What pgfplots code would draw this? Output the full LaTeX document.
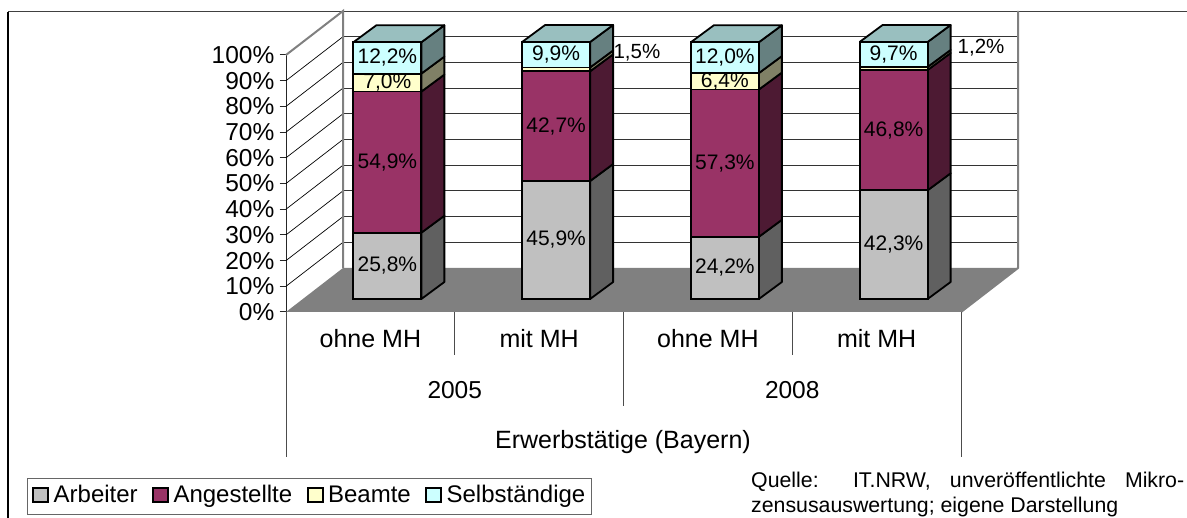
\documentclass[border=0pt]{standalone}
\usepackage{fontspec}
\setmainfont{Liberation Sans}
\usepackage{pgfplots}
\pgfplotsset{compat=1.18}
\definecolor{gArb}{HTML}{C0C0C0}\definecolor{sArb}{HTML}{606060}
\definecolor{gAng}{HTML}{993366}\definecolor{sAng}{HTML}{4D1A33}
\definecolor{gBea}{HTML}{FFFFCC}\definecolor{sBea}{HTML}{808066}
\definecolor{gSel}{HTML}{CCFFFF}\definecolor{sSel}{HTML}{668080}
\definecolor{tSel}{HTML}{99BFBF}
\definecolor{wall}{HTML}{808080}
\newcommand{\fs}[1]{\fontsize{#1}{#1}\selectfont}
\pgfplotsset{geom/.style={scale only axis,width=675pt,height=257pt,xmin=0,xmax=4,ymin=0,ymax=100,clip=false,no markers,anchor=south west}}
\begin{document}
\begin{tikzpicture}[x=1pt,y=1pt]
\useasboundingbox (0,0) rectangle (1187,518);
% ---------- front plane axis: frame, walls, floor, ticks, categories
\begin{axis}[geom,at={(286pt,206pt)},
  axis x line=bottom,axis y line=left,axis line style={-,line width=1pt,color=black!85},
  unbounded coords=jump,
  xtick={0.5,1.5,2.5,3.5},xticklabels={ohne MH,mit MH,ohne MH,mit MH},
  major x tick style={draw=none},
  xticklabel style={font=\fs{25},anchor=base,yshift=-29pt},
  ytick={0,10,...,100},
  yticklabels={0\%,10\%,20\%,30\%,40\%,50\%,60\%,70\%,80\%,90\%,100\%},
  yticklabel style={font=\fs{24.5},inner sep=0pt,anchor=east,xshift=-5pt},
  tick align=outside,major tick length=6.5pt,
  major y tick style={line width=1pt,color=black!85},
]
% outer frame
\addplot[color=black!75,line width=1.6pt] coordinates {(-1.6474,116.9) (5.3393,116.9)};
\addplot[color=black,line width=1.3pt] coordinates {(-1.6474,116.9) (-1.6474,-80.16)};
% floor
\addplot[fill=wall,draw=none] coordinates {(0,0) (4,0) (4.3378,17.12) (0.3378,17.12) (0,0)};
% back wall grid
\addplot[color=black!80,line width=0.8pt] coordinates {
 (0.3378,27.12) (4.3378,27.12) (nan,nan) (0.3378,37.12) (4.3378,37.12) (nan,nan)
 (0.3378,47.12) (4.3378,47.12) (nan,nan) (0.3378,57.12) (4.3378,57.12) (nan,nan)
 (0.3378,67.12) (4.3378,67.12) (nan,nan) (0.3378,77.12) (4.3378,77.12) (nan,nan)
 (0.3378,87.12) (4.3378,87.12) (nan,nan) (0.3378,97.12) (4.3378,97.12) (nan,nan)
 (0.3378,107.12) (4.3378,107.12)};
% left wall grid
\addplot[color=black,line width=0.7pt] coordinates {
 (0,10) (0.3378,27.12) (nan,nan) (0,20) (0.3378,37.12) (nan,nan)
 (0,30) (0.3378,47.12) (nan,nan) (0,40) (0.3378,57.12) (nan,nan)
 (0,50) (0.3378,67.12) (nan,nan) (0,60) (0.3378,77.12) (nan,nan)
 (0,70) (0.3378,87.12) (nan,nan) (0,80) (0.3378,97.12) (nan,nan)
 (0,90) (0.3378,107.12)};
% wall edges
\addplot[color=wall,line width=2pt] coordinates {(0,100) (0.3378,117.12) (0.3378,17.12)};
\addplot[color=wall,line width=2pt] coordinates {(4.3378,117.12) (4.3378,17.12) (4,0)};
% category separators
\addplot[color=black!70,line width=0.9pt] coordinates {
 (0,0) (0,-56.4) (nan,nan) (1,0) (1,-16.7) (nan,nan) (2,0) (2,-36.6) (nan,nan)
 (3,0) (3,-16.7) (nan,nan) (4,0) (4,-56.4)};
\node[font=\fs{24.5}] at (axis cs:1,-30.35) {2005};
\node[font=\fs{24.5}] at (axis cs:3,-30.35) {2008};
\node[font=\fs{25}] at (axis cs:1.997,-50.6) {Erwerbstätige (Bayern)};
\node[anchor=north west,inner sep=0pt,font=\fontsize{21.3}{24.3}\selectfont,align=left] at (axis cs:2.7556,-62.3)
 {\makebox[433pt][s]{Quelle: IT.NRW, unveröffentlichte Mikro-}\\zensusauswertung; eigene Darstellung};
\end{axis}
% ---------- side and top faces of the bars
\begin{axis}[geom,at={(303pt,219pt)},hide axis]
\pgfplotsset{every axis plot/.append style={draw=black,line width=1.8pt,line join=round}}
% bar 1
\addplot[fill=sArb] coordinates {(0.7015,0) (0.8378,6.615) (0.8378,32.415) (0.7015,25.8) (0.7015,0)};
\addplot[fill=sAng] coordinates {(0.7015,25.8) (0.8378,32.415) (0.8378,87.315) (0.7015,80.7) (0.7015,25.8)};
\addplot[fill=sBea] coordinates {(0.7015,80.7) (0.8378,87.315) (0.8378,94.315) (0.7015,87.7) (0.7015,80.7)};
\addplot[fill=sSel] coordinates {(0.7015,87.7) (0.8378,94.315) (0.8378,106.515) (0.7015,99.9) (0.7015,87.7)};
\addplot[fill=tSel] coordinates {(0.2985,99.9) (0.7015,99.9) (0.8378,106.515) (0.4348,106.515) (0.2985,99.9)};
% bar 2
\addplot[fill=sArb] coordinates {(1.7015,0) (1.8378,6.615) (1.8378,52.515) (1.7015,45.9) (1.7015,0)};
\addplot[fill=sAng] coordinates {(1.7015,45.9) (1.8378,52.515) (1.8378,95.215) (1.7015,88.6) (1.7015,45.9)};
\addplot[fill=sBea] coordinates {(1.7015,88.6) (1.8378,95.215) (1.8378,96.715) (1.7015,90.1) (1.7015,88.6)};
\addplot[fill=sSel] coordinates {(1.7015,90.1) (1.8378,96.715) (1.8378,106.615) (1.7015,100) (1.7015,90.1)};
\addplot[fill=tSel] coordinates {(1.2985,100) (1.7015,100) (1.8378,106.615) (1.4348,106.615) (1.2985,100)};
% bar 3
\addplot[fill=sArb] coordinates {(2.7015,0) (2.8378,6.615) (2.8378,30.815) (2.7015,24.2) (2.7015,0)};
\addplot[fill=sAng] coordinates {(2.7015,24.2) (2.8378,30.815) (2.8378,88.115) (2.7015,81.5) (2.7015,24.2)};
\addplot[fill=sBea] coordinates {(2.7015,81.5) (2.8378,88.115) (2.8378,94.515) (2.7015,87.9) (2.7015,81.5)};
\addplot[fill=sSel] coordinates {(2.7015,87.9) (2.8378,94.515) (2.8378,106.515) (2.7015,99.9) (2.7015,87.9)};
\addplot[fill=tSel] coordinates {(2.2985,99.9) (2.7015,99.9) (2.8378,106.515) (2.4348,106.515) (2.2985,99.9)};
% bar 4
\addplot[fill=sArb] coordinates {(3.7015,0) (3.8378,6.615) (3.8378,48.915) (3.7015,42.3) (3.7015,0)};
\addplot[fill=sAng] coordinates {(3.7015,42.3) (3.8378,48.915) (3.8378,95.715) (3.7015,89.1) (3.7015,42.3)};
\addplot[fill=sBea] coordinates {(3.7015,89.1) (3.8378,95.715) (3.8378,96.915) (3.7015,90.3) (3.7015,89.1)};
\addplot[fill=sSel] coordinates {(3.7015,90.3) (3.8378,96.915) (3.8378,106.615) (3.7015,100) (3.7015,90.3)};
\addplot[fill=tSel] coordinates {(3.2985,100) (3.7015,100) (3.8378,106.615) (3.4348,106.615) (3.2985,100)};
\end{axis}
% ---------- front faces: stacked bars with the chart's values
\begin{axis}[geom,at={(303pt,219pt)},hide axis,
  ybar stacked,bar width=68pt,
  legend columns=4,
  legend style={at={(axis description cs:-0.4089,-0.6965)},anchor=north west,
    draw=black!60,line width=0.8pt,fill=white,font=\fs{24},inner xsep=5pt,inner ysep=5.5pt,
    /tikz/every odd column/.style={column sep=3pt},
    /tikz/every even column/.style={column sep=13pt},
    nodes={inner sep=1.5pt,text height=17pt,text depth=5pt}},
  legend image code/.code={\draw[#1,line width=1.8pt,draw=black] (0pt,-6pt) rectangle (15pt,8pt);},
]
\pgfplotsset{every axis plot/.append style={draw=black,line width=1.8pt}}
\addplot[fill=gArb] coordinates {(0.5,25.8) (1.5,45.9) (2.5,24.2) (3.5,42.3)};
\addplot[fill=gAng] coordinates {(0.5,54.9) (1.5,42.7) (2.5,57.3) (3.5,46.8)};
\addplot[fill=gBea] coordinates {(0.5,7.0) (1.5,1.5) (2.5,6.4) (3.5,1.2)};
\addplot[fill=gSel] coordinates {(0.5,12.2) (1.5,9.9) (2.5,12.0) (3.5,9.7)};
\legend{Arbeiter,Angestellte,Beamte,Selbständige}
\end{axis}
% ---------- data labels, above the bars
\begin{axis}[geom,at={(303pt,219pt)},hide axis]
\tikzset{every node/.style={font=\fs{21}}}
\node at (axis cs:0.5,12.9) {25,8\%};
\node at (axis cs:0.5,53.25) {54,9\%};
\node at (axis cs:0.5,84.2) {7,0\%};
\node at (axis cs:0.5,93.8) {12,2\%};
\node at (axis cs:1.5,22.95) {45,9\%};
\node at (axis cs:1.5,67.25) {42,7\%};
\node[font=\fs{20.5}] at (axis cs:1.979,95.7) {1,5\%};
\node at (axis cs:1.5,95.05) {9,9\%};
\node at (axis cs:2.5,12.1) {24,2\%};
\node at (axis cs:2.5,52.85) {57,3\%};
\node at (axis cs:2.5,84.7) {6,4\%};
\node at (axis cs:2.5,93.9) {12,0\%};
\node at (axis cs:3.5,21.15) {42,3\%};
\node at (axis cs:3.5,65.7) {46,8\%};
\node[font=\fs{20.5}] at (axis cs:4.018,97.7) {1,2\%};
\node at (axis cs:3.5,95.15) {9,7\%};
\end{axis}
\end{tikzpicture}
\end{document}
